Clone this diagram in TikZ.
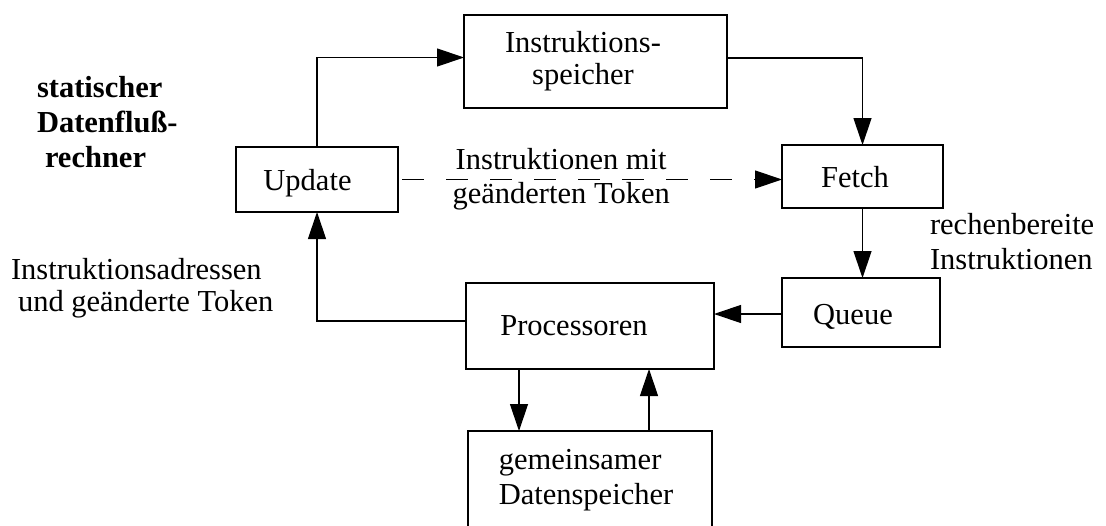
\documentclass[tikz,border=0pt]{standalone}
\usepackage{fontspec}
\setmainfont{Liberation Serif}
\usetikzlibrary{arrows.meta}
\begin{document}
\begin{tikzpicture}[x=1pt, y=-1pt,
  every node/.style={inner sep=0pt, outer sep=0pt},
  txt/.style={font=\fontsize{30.5}{#1}\selectfont},
  txt/.default=33,
  unit/.style={draw, line width=1.3pt},
  flow/.style={line width=1.2pt, -{Triangle[length=27pt,width=18pt]}},
  dataflow/.style={flow, dash pattern=on 22pt off 22pt, shorten <=4pt}
]
\useasboundingbox (0,0) rectangle (1106,525);
\clip (0,0) rectangle (1106,525);

% functional units
\node[unit, minimum width=263pt, minimum height=93pt] (ispeicher) at (595.5,61.5) {};
\node[unit, minimum width=162pt, minimum height=65pt] (update) at (317,179.5) {};
\node[unit, minimum width=161pt, minimum height=63pt] (fetch) at (862.5,176.5) {};
\node[unit, minimum width=158pt, minimum height=69pt] (queue) at (861,312.5) {};
\node[unit, minimum width=248pt, minimum height=86pt] (proc) at (590,326) {};
\node[unit, minimum width=244pt, minimum height=128pt] (mem) at (590,495) {};

% unit names
\node[txt=32, align=center] (ispeichertext) at ([xshift=-12.5pt, yshift=0.5pt]ispeicher.center) {Instruktions-\\speicher};
\node[txt, anchor=base] (updatetext) at ([xshift=-9.5pt, yshift=-10.5pt]update.center) {Update};
\node[txt, anchor=base] (fetchtext) at ([xshift=-7.5pt, yshift=-10.5pt]fetch.center) {Fetch};
\node[txt, anchor=base] (queuetext) at ([xshift=-8pt, yshift=-11.5pt]queue.center) {Queue};
\node[txt, anchor=base] (proctext) at ([xshift=-16pt, yshift=-9pt]proc.center) {Processoren};
\node[txt=35, align=left] (memtext) at ([xshift=-4pt, yshift=14.5pt]mem.center) {gemeinsamer\\Datenspeicher};

% free labels
\node[font=\bfseries\fontsize{30.5}{35}\selectfont, anchor=west, align=left]
  (title) at (37,121.8) {statischer\\Datenfluß-\\\hspace*{8pt}rechner};
\node[txt=32, anchor=west, align=left]
  (addr) at (11,288) {Instruktionsadressen\\\hspace*{7pt}und geänderte Token};
\node[txt=35, anchor=west, align=left]
  (ready) at (930,242) {rechenbereite\\Instruktionen};

% connections
\draw[flow] (update.north) |- ([yshift=4pt]ispeicher.west);
\draw[flow] ([yshift=3.5pt]ispeicher.east) -| (fetch.north);
\draw[flow] (fetch.south) -- (fetch.south |- queue.north);
\draw[flow] ([yshift=-1.5pt]queue.west) -- ([yshift=-1.5pt]queue.west -| proc.east);
\draw[flow] ([yshift=5pt]proc.west) -| (update.south);
\draw[flow] ([xshift=-71pt]proc.south) -- ([xshift=-71pt]proc.south |- mem.north);
\draw[flow] ([xshift=59pt]mem.north) -- ([xshift=59pt]mem.north |- proc.south);
\draw[dataflow] (update.east) -- (update.east -| fetch.west)
  node[txt=34, align=center, pos=0.425, yshift=0.5pt] (token) {Instruktionen mit\\geänderten Token};
\end{tikzpicture}
\end{document}
